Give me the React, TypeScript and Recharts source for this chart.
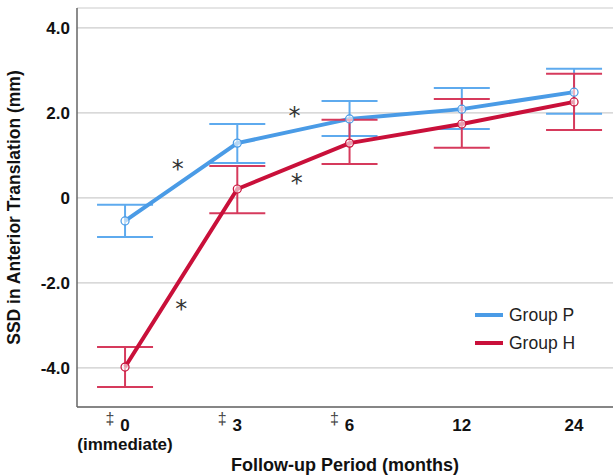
import {
  ComposedChart,
  Line,
  Scatter,
  XAxis,
  YAxis,
  CartesianGrid,
  ErrorBar,
  Legend,
} from "recharts";

const periods = ["0", "3", "6", "12", "24"];
const periodNotes = ["(immediate)", "", "", "", ""];
const daggerMarks = [true, true, true, false, false];

const groupP = [-0.54, 1.29, 1.86, 2.09, 2.49];
const groupPLow = [-0.92, 0.82, 1.46, 1.62, 1.98];
const groupPHigh = [-0.16, 1.74, 2.28, 2.59, 3.04];

const groupH = [-3.98, 0.21, 1.29, 1.74, 2.26];
const groupHLow = [-4.45, -0.36, 0.8, 1.18, 1.6];
const groupHHigh = [-3.51, 0.75, 1.84, 2.33, 2.92];

// asterisks between follow-up points (x in period index units)
const starX = [0.47, 1.51, 1.53, 0.5];
const starY = [0.73, 1.98, 0.4, -2.56];

const yTicks = [-4, -2, 0, 2, 4];

const BLUE = "#4a9be6";
const BLUE_ERR = "#5eaaee";
const RED = "#c9103a";
const RED_ERR = "#d63a5c";
const FONT = "'Liberation Sans', Arial, sans-serif";

const data = periods.map((_, i) => ({
  idx: i,
  p: groupP[i],
  pErr: [groupP[i] - groupPLow[i], groupPHigh[i] - groupP[i]],
  h: groupH[i],
  hErr: [groupH[i] - groupHLow[i], groupHHigh[i] - groupH[i]],
}));

const stars = starX.map((x, i) => ({ idx: x, y: starY[i] }));

const PeriodTick = (props: any) => {
  const { x, y, payload } = props;
  const i = payload.value as number;
  return (
    <g fontFamily={FONT}>
      {daggerMarks[i] && (
        <text x={x - 15} y={y + 9} textAnchor="middle" fontSize={16} fill="#444">
          ‡
        </text>
      )}
      <text x={x} y={y + 16} textAnchor="middle" fontSize={17} fontWeight="bold" fill="#111">
        {periods[i]}
      </text>
      {periodNotes[i] && (
        <text x={x} y={y + 35} textAnchor="middle" fontSize={17} fontWeight="bold" fill="#111">
          {periodNotes[i]}
        </text>
      )}
    </g>
  );
};

const StarShape = (props: any) => (
  <text
    x={props.cx}
    y={props.cy + 10}
    textAnchor="middle"
    fontSize={24}
    fontFamily="'DejaVu Sans', sans-serif"
    fill="#333"
  >
    *
  </text>
);

const GroupLegend = () => (
  <div style={{ fontFamily: FONT, fontSize: 17.5, color: "#222" }}>
    {[
      { name: "Group P", color: BLUE },
      { name: "Group H", color: RED },
    ].map((g) => (
      <div key={g.name} style={{ display: "flex", alignItems: "center", height: 28 }}>
        <div style={{ width: 28, height: 4, background: g.color, marginRight: 6 }} />
        {g.name}
      </div>
    ))}
  </div>
);

export default function App() {
  return (
    <div style={{ position: "absolute", left: 0, top: 0, width: 613, height: 475, background: "#fff" }}>
      <ComposedChart
        width={613}
        height={475}
        data={data}
        margin={{ top: 8, right: 0, bottom: 0, left: 0 }}
      >
        <CartesianGrid vertical={false} stroke="#cccccc" strokeWidth={1.2} />
        <XAxis
          type="number"
          dataKey="idx"
          domain={[-0.428, 4.347]}
          ticks={[0, 1, 2, 3, 4]}
          allowDataOverflow
          height={68}
          tickLine={false}
          axisLine={{ stroke: "#666", strokeWidth: 1.5 }}
          tick={<PeriodTick />}
          label={{
            value: "Follow-up Period (months)",
            position: "insideBottom",
            offset: 4,
            style: { fontFamily: FONT, fontSize: 18, fontWeight: "bold", fill: "#111" },
          }}
        />
        <YAxis
          type="number"
          domain={[-4.92, 4.47]}
          ticks={yTicks}
          allowDataOverflow
          width={77}
          tickLine={false}
          tickSize={5}
          tickMargin={2}
          axisLine={{ stroke: "#666", strokeWidth: 1.5 }}
          tickFormatter={(v: number) => (v === 0 ? "0" : v.toFixed(1))}
          tick={{ fontFamily: FONT, fontSize: 17, fontWeight: "bold", fill: "#111" }}
          label={{
            value: "SSD in Anterior Translation (mm)",
            angle: -90,
            position: "insideLeft",
            offset: 14,
            style: {
              textAnchor: "middle",
              fontFamily: FONT,
              fontSize: 17.5,
              fontWeight: "bold",
              fill: "#111",
            },
          }}
        />
        <Line
          dataKey="p"
          stroke={BLUE}
          strokeWidth={4}
          dot={{ r: 4, fill: "#fff", fillOpacity: 0.6, stroke: BLUE, strokeWidth: 1.2 }}
          isAnimationActive={false}
        >
          <ErrorBar dataKey="pErr" width={28} stroke={BLUE_ERR} strokeWidth={2} />
        </Line>
        <Line
          dataKey="h"
          stroke={RED}
          strokeWidth={4}
          dot={{ r: 4, fill: "#fff", fillOpacity: 0.6, stroke: RED, strokeWidth: 1.2 }}
          isAnimationActive={false}
        >
          <ErrorBar dataKey="hErr" width={28} stroke={RED_ERR} strokeWidth={2} />
        </Line>
        <Scatter
          data={stars}
          dataKey="y"
          shape={<StarShape />}
          legendType="none"
          isAnimationActive={false}
        />
        <Legend
          layout="vertical"
          align="center"
          verticalAlign="middle"
          content={<GroupLegend />}
          wrapperStyle={{ left: 475, top: 301, width: 140, height: 60 }}
        />
      </ComposedChart>
    </div>
  );
}
